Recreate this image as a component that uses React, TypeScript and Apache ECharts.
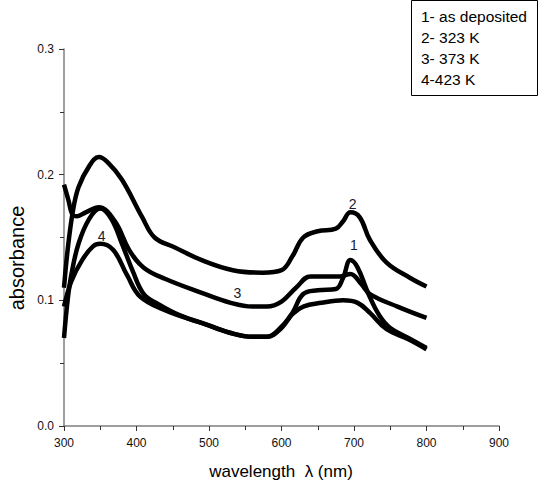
import React, { useEffect, useRef } from "react";
import * as echarts from "echarts";

// wavelength (nm) and absorbance for each sample
const wl1 = [300, 305, 310, 320, 335, 350, 365, 380, 395, 410, 430, 460, 500, 530, 560, 580, 600, 615, 630, 650, 675, 685, 695, 705, 720, 735, 750, 775, 800];
const ab1 = [0.07, 0.1, 0.12, 0.145, 0.165, 0.173, 0.165, 0.145, 0.123, 0.105, 0.097, 0.088, 0.08, 0.074, 0.071, 0.071, 0.079, 0.09, 0.105, 0.108, 0.109, 0.118, 0.132, 0.126, 0.105, 0.088, 0.078, 0.07, 0.062];

const wl2 = [300, 305, 312, 320, 335, 348, 360, 380, 408, 425, 453, 490, 533, 574, 600, 615, 630, 650, 675, 685, 695, 708, 722, 745, 777, 800];
const ab2 = [0.11, 0.14, 0.17, 0.19, 0.207, 0.214, 0.21, 0.196, 0.166, 0.15, 0.142, 0.132, 0.124, 0.122, 0.124, 0.135, 0.15, 0.155, 0.157, 0.163, 0.17, 0.166, 0.148, 0.13, 0.118, 0.111];

const wl3 = [300, 306, 312, 318, 330, 348, 370, 390, 410, 440, 490, 530, 560, 580, 600, 620, 640, 680, 695, 710, 722, 760, 800];
const ab3 = [0.192, 0.18, 0.168, 0.167, 0.17, 0.174, 0.163, 0.14, 0.126, 0.117, 0.106, 0.098, 0.095, 0.095, 0.099, 0.11, 0.119, 0.119, 0.121, 0.113, 0.105, 0.095, 0.086];

const wl4 = [300, 310, 325, 340, 350, 368, 387, 405, 440, 490, 530, 560, 580, 600, 615, 630, 655, 685, 705, 722, 745, 775, 800];
const ab4 = [0.095, 0.115, 0.132, 0.143, 0.145, 0.14, 0.12, 0.103, 0.092, 0.082, 0.074, 0.071, 0.071, 0.078, 0.089, 0.095, 0.098, 0.1, 0.098, 0.09, 0.077, 0.069, 0.061];

const legendLines = ["1- as deposited", "2- 323 K", "3- 373 K", "4-423 K"];
const curveLabels = [
  { text: "1", at: [700, 0.144] },
  { text: "2", at: [698, 0.177] },
  { text: "3", at: [539, 0.106] },
  { text: "4", at: [352, 0.151] },
];
const xTitle = "wavelength  λ (nm)";
const yTitle = "absorbance";

const zip = (xs: number[], ys: number[]) => xs.map((x, i) => [x, ys[i]]);

export default function App() {
  const ref = useRef<HTMLDivElement>(null);
  useEffect(() => {
    if (!ref.current) return;
    const chart = echarts.init(ref.current, null, { renderer: "svg" });
    const font = "Liberation Sans, Arial, sans-serif";
    const mkSeries = (name: string, data: number[][], label: { text: string; at: number[] }) => ({
      name,
      type: "line",
      data,
      smooth: 0.4,
      showSymbol: false,
      symbol: "none",
      lineStyle: { color: "#000", width: 4.5 },
      z: 2,
      markPoint: {
        symbol: "circle",
        symbolSize: 0,
        silent: true,
        data: [
          {
            coord: label.at,
            label: {
              show: true,
              formatter: label.text,
              color: "#1a1a2e",
              fontSize: 14,
              fontFamily: font,
              position: "inside",
            },
          },
        ],
      },
    });
    chart.setOption({
      animation: false,
      grid: { left: 64, right: 40, top: 49, bottom: 57 },
      xAxis: {
        type: "value",
        min: 300,
        max: 900,
        interval: 100,
        axisLine: { show: true, lineStyle: { color: "#7f7f7f", width: 1.5 } },
        axisTick: { show: true, inside: false, length: 5, lineStyle: { color: "#333" } },
        minorTick: { show: true, splitNumber: 2, length: 4, lineStyle: { color: "#333" } },
        splitLine: { show: false },
        axisLabel: { color: "#111", fontSize: 12, fontFamily: font, margin: 11 },
      },
      yAxis: {
        type: "value",
        min: 0,
        max: 0.3,
        interval: 0.1,
        axisLine: { show: true, lineStyle: { color: "#7f7f7f", width: 1.5 } },
        axisTick: { show: true, inside: false, length: 5, lineStyle: { color: "#333" } },
        minorTick: { show: true, splitNumber: 2, length: 4, lineStyle: { color: "#333" } },
        splitLine: { show: false },
        axisLabel: {
          color: "#111",
          fontSize: 12,
          fontFamily: font,
          margin: 10,
          formatter: (v: number) => v.toFixed(1),
        },
      },
      graphic: [
        {
          type: "text",
          x: 17,
          y: 258,
          rotation: Math.PI / 2,
          style: {
            text: yTitle,
            fill: "#000",
            font: `20px ${font}`,
            align: "center",
            verticalAlign: "middle",
          },
        },
        {
          type: "text",
          x: 281,
          y: 471,
          style: {
            text: xTitle,
            fill: "#000",
            font: `17px ${font}`,
            align: "center",
            verticalAlign: "middle",
          },
        },
        {
          type: "rect",
          shape: { x: 411.5, y: 0.5, width: 126, height: 95 },
          style: { fill: "#fff", stroke: "#000", lineWidth: 1 },
        },
        ...legendLines.map((t, i) => ({
          type: "text",
          x: 421,
          y: 16 + i * 21.2,
          style: {
            text: t,
            fill: "#000",
            font: `15.5px ${font}`,
            align: "left",
            verticalAlign: "middle",
          },
        })),
      ],
      series: [
        mkSeries("1", zip(wl1, ab1), curveLabels[0]),
        mkSeries("2", zip(wl2, ab2), curveLabels[1]),
        mkSeries("3", zip(wl3, ab3), curveLabels[2]),
        mkSeries("4", zip(wl4, ab4), curveLabels[3]),
      ],
    });
    return () => chart.dispose();
  }, []);
  return (
    <div
      ref={ref}
      style={{ position: "absolute", left: 0, top: 0, width: 539, height: 483 }}
    />
  );
}
